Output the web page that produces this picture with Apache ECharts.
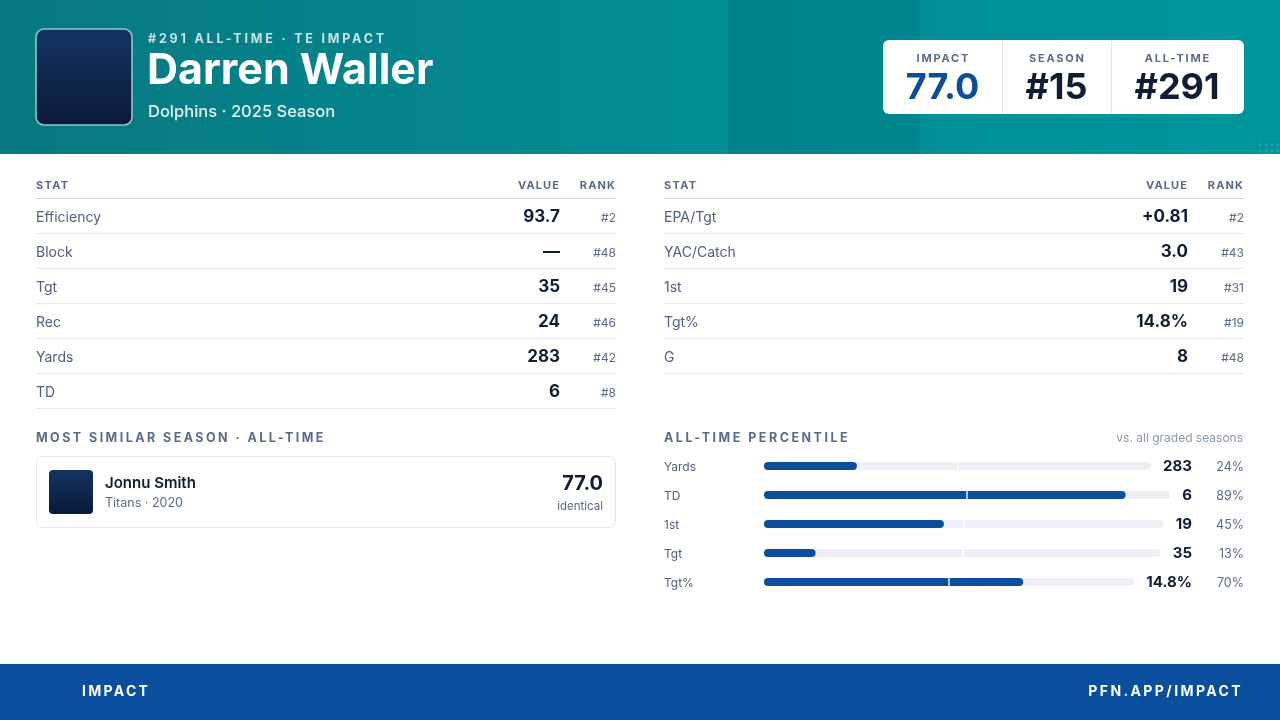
<!DOCTYPE html>
<html>
<head>
<meta charset="utf-8">
<title>Darren Waller - Impact</title>
<script src="https://cdn.jsdelivr.net/npm/echarts@6/dist/echarts.min.js"></script>
<style>
  html, body { margin: 0; padding: 0; background: #fff; }
  #main { width: 1280px; height: 720px; }
</style>
</head>
<body>
<div id="main"></div>
<script>
// 数据 ---------------------------------------------------------------
var scoreLabels = ['IMPACT', 'SEASON', 'ALL-TIME'];
var scoreValues = ['77.0', '#15', '#291'];

var leftStats = ['Efficiency', 'Block', 'Tgt', 'Rec', 'Yards', 'TD'];
var leftValues = ['93.7', '—', '35', '24', '283', '6'];
var leftRanks = ['#2', '#48', '#45', '#46', '#42', '#8'];

var rightStats = ['EPA/Tgt', 'YAC/Catch', '1st', 'Tgt%', 'G'];
var rightValues = ['+0.81', '3.0', '19', '14.8%', '8'];
var rightRanks = ['#2', '#43', '#31', '#19', '#48'];

var pctLabels = ['Yards', 'TD', '1st', 'Tgt', 'Tgt%'];
var pctValues = ['283', '6', '19', '35', '14.8%'];
var pctRanks = [24, 89, 45, 13, 70];

var FONT = 'Inter, "Noto Sans", sans-serif';
var NAVY = '#0f1d35';
var MUTED = '#5a6a8a';
var LABEL = '#505e80';
var BLUE = '#0b4f9c';

// 字间距: zrender 不支持 letterSpacing, 用字体名里的标记交给 canvas 处理
(function () {
    var proto = CanvasRenderingContext2D.prototype;
    var origFill = proto.fillText;
    proto.fillText = function (s, x, y) {
        var hasLS = ('letterSpacing' in this);
        var m = /"?ls ([\d.]+)"?/.exec(this.font);
        if (m && hasLS) {
            var sp = parseFloat(m[1]);
            this.letterSpacing = sp + 'px';
            if (this.textAlign === 'center') x += sp / 2;
            var args = Array.prototype.slice.call(arguments);
            args[1] = x;
            origFill.apply(this, args);
            this.letterSpacing = '0px';
            return;
        }
        if (hasLS) this.letterSpacing = '0px';
        origFill.apply(this, arguments);
    };
})();

function txt(s, x, y, font, color, align, spacing) {
    var family = spacing ? 'Inter, "ls ' + spacing + '", sans-serif' : FONT;
    return {
        type: 'text',
        silent: true,
        style: {
            text: s, x: x, y: y,
            font: font + ' ' + family,
            fill: color,
            textAlign: align || 'left',
            verticalAlign: 'middle'
        }
    };
}
function hline(x1, x2, y, color, w) {
    return {
        type: 'line', silent: true,
        shape: { x1: x1, y1: y, x2: x2, y2: y },
        style: { stroke: color, lineWidth: w || 1 }
    };
}
function navyBox(x, y, w, h, r) {
    return {
        type: 'rect', silent: true,
        shape: { x: x, y: y, width: w, height: h, r: r },
        style: {
            fill: new echarts.graphic.LinearGradient(0, 0, 0, 1, [
                { offset: 0, color: '#133463' },
                { offset: 1, color: '#0a1a38' }
            ])
        }
    };
}

var els = [];

// 头部 ---------------------------------------------------------------
els.push({
    type: 'rect', silent: true,
    shape: { x: 0, y: 0, width: 1280, height: 154 },
    style: {
        fill: new echarts.graphic.LinearGradient(0, 0, 1, 0, [
            { offset: 0, color: '#097880' },
            { offset: 0.55, color: '#028d95' },
            { offset: 1, color: '#00959c' }
        ])
    }
});
els.push({
    type: 'rect', silent: true,
    shape: { x: 728, y: 0, width: 192, height: 154 },
    style: { fill: 'rgba(0,40,70,0.10)' }
});
// 角落小点
for (var dx = 0; dx < 4; dx++) {
    for (var dy = 0; dy < 3; dy++) {
        els.push({
            type: 'circle', silent: true,
            shape: { cx: 1260 + dx * 6, cy: 139 + dy * 6, r: 1 },
            style: { fill: 'rgba(160,220,225,' + (0.15 + 0.1 * dy) + ')' }
        });
    }
}
var avatar = navyBox(36, 29, 96, 96, 8);
avatar.style.stroke = '#8cc8cb';
avatar.style.lineWidth = 1.6;
els.push(avatar);

els.push(txt('#291 ALL-TIME · TE IMPACT', 148, 39, 'bold 12.5px', 'rgba(255,255,255,0.78)', 'left', 2.8));
els.push(txt('Darren Waller', 147, 71, 'bold 43px', '#ffffff'));
els.push(txt('Dolphins · 2025 Season', 148, 112, '500 16.5px', 'rgba(255,255,255,0.88)'));

// 分数卡片
els.push({
    type: 'rect', silent: true,
    shape: { x: 883, y: 40, width: 361, height: 74, r: 6 },
    style: { fill: '#ffffff' }
});
els.push({ type: 'line', silent: true, shape: { x1: 1002.5, y1: 40, x2: 1002.5, y2: 114 }, style: { stroke: '#e3e7ee', lineWidth: 1 } });
els.push({ type: 'line', silent: true, shape: { x1: 1111.5, y1: 40, x2: 1111.5, y2: 114 }, style: { stroke: '#e3e7ee', lineWidth: 1 } });
var scoreCenters = [942.5, 1056.5, 1177];
for (var i = 0; i < scoreLabels.length; i++) {
    els.push(txt(scoreLabels[i], scoreCenters[i], 59, 'bold 11px', MUTED, 'center', 1.8));
    els.push(txt(scoreValues[i], scoreCenters[i], 88, 'bold 36px', i === 0 ? BLUE : NAVY, 'center'));
}

// 统计表 ---------------------------------------------------------------
function statTable(x0, x1, stats, values, ranks) {
    var valX = x1 - 56;
    els.push(txt('STAT', x0, 186, 'bold 11px', MUTED, 'left', 1.3));
    els.push(txt('VALUE', valX, 186, 'bold 11px', MUTED, 'right', 1.1));
    els.push(txt('RANK', x1, 186, 'bold 11px', MUTED, 'right', 1.1));
    els.push(hline(x0, x1, 198.5, '#cfd5e0', 1.2));
    for (var i = 0; i < stats.length; i++) {
        var cy = 217 + i * 35;
        els.push(txt(stats[i], x0, cy + 1, '14px', LABEL));
        els.push(txt(values[i], valX, cy, 'bold 17px', NAVY, 'right'));
        els.push(txt(ranks[i], x1, cy + 1, '12px', MUTED, 'right'));
        els.push(hline(x0, x1, cy + 16.5, '#e8ebf0', 1));
    }
}
statTable(36, 616, leftStats, leftValues, leftRanks);
statTable(664, 1244, rightStats, rightValues, rightRanks);

// 最相似赛季 ---------------------------------------------------------------
els.push(txt('MOST SIMILAR SEASON · ALL-TIME', 36, 438, 'bold 12.5px', MUTED, 'left', 2.45));
els.push({
    type: 'rect', silent: true,
    shape: { x: 36.5, y: 456.5, width: 579, height: 71, r: 6 },
    style: { fill: '#ffffff', stroke: '#e3e7ee', lineWidth: 1 }
});
els.push(navyBox(49, 470, 44, 44, 4));
els.push(txt('Jonnu Smith', 105, 483, '600 15px', NAVY));
els.push(txt('Titans · 2020', 105, 503, '12.5px', MUTED));
els.push(txt('77.0', 603, 484, 'bold 20px', NAVY, 'right'));
els.push(txt('identical', 603, 507, '11.5px', MUTED, 'right'));

// 百分位 ---------------------------------------------------------------
els.push(txt('ALL-TIME PERCENTILE', 664, 438, 'bold 12.5px', MUTED, 'left', 2.5));
els.push(txt('vs. all graded seasons', 1243, 438, '12px', '#8a96ae', 'right'));

var measure = document.createElement('canvas').getContext('2d');
measure.font = 'bold 15px ' + FONT;

var grids = [], xAxes = [], yAxes = [], series = [];
for (var i = 0; i < pctLabels.length; i++) {
    var cy = 466 + i * 29;
    var valW = measure.measureText(pctValues[i]).width;
    var trackEnd = 1192 - valW - 12;
    els.push(txt(pctLabels[i], 664, cy + 1, '12px', LABEL));
    els.push(txt(pctValues[i], 1192, cy, 'bold 15px', NAVY, 'right'));
    els.push(txt(pctRanks[i] + '%', 1244, cy + 1, '12.5px', MUTED, 'right'));

    grids.push({ left: 764, top: cy - 4, width: trackEnd - 764, height: 8 });
    xAxes.push({ gridIndex: i, type: 'value', min: 0, max: 100, show: false });
    yAxes.push({ gridIndex: i, type: 'category', data: [pctLabels[i]], show: false });
    series.push({
        type: 'bar',
        xAxisIndex: i,
        yAxisIndex: i,
        data: [pctRanks[i]],
        barWidth: 8,
        showBackground: true,
        backgroundStyle: { color: '#edf1f6', borderRadius: 4 },
        itemStyle: { color: BLUE, borderRadius: 4 },
        silent: true,
        markLine: {
            silent: true,
            symbol: 'none',
            label: { show: false },
            lineStyle: { color: '#ffffff', width: 1.5, type: 'solid', opacity: 0.9 },
            data: [{ xAxis: 50 }]
        }
    });
}

// 底部 ---------------------------------------------------------------
els.push({
    type: 'rect', silent: true,
    shape: { x: 0, y: 664, width: 1280, height: 56 },
    style: { fill: '#0a4f9e' }
});
els.push(txt('IMPACT', 82, 692, 'bold 14px', '#ffffff', 'left', 2.3));
els.push(txt('PFN.APP/IMPACT', 1243, 692, 'bold 14px', '#ffffff', 'right', 2.4));

var myChart = echarts.init(document.getElementById('main'));
var option = {
    animation: false,
    backgroundColor: '#ffffff',
    grid: grids,
    xAxis: xAxes,
    yAxis: yAxes,
    series: series,
    graphic: { elements: els }
};
option && myChart.setOption(option);
window.addEventListener('resize', myChart.resize);
</script>
</body>
</html>
